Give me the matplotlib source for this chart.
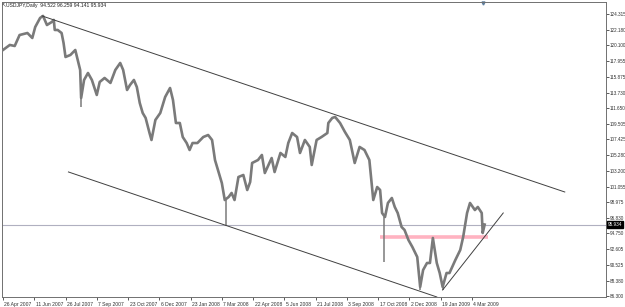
import matplotlib
matplotlib.use("Agg")
import matplotlib.pyplot as plt
import matplotlib.transforms as mtransforms

plt.rcParams['font.family'] = ['Liberation Sans', 'DejaVu Sans']

# USDJPY daily, values (bar index from 26 Apr 2007)
day = [0, 7, 12, 17, 25, 30, 33, 38, 41, 45, 50, 52, 53, 56, 60, 62, 64, 69, 74, 77,
       79, 80, 83, 87, 91, 96, 99, 104, 110, 115, 120, 123, 127, 130, 134, 137, 140, 143,
       146, 150, 152, 156, 161, 166, 171, 174, 177, 181, 184, 188, 191, 194, 199, 205,
       210, 214, 217, 220, 224, 227, 231, 234, 237, 241, 246, 250, 253, 255, 261, 265,
       268, 275, 278, 284, 289, 292, 296, 301, 304, 309, 314, 316, 321, 326, 332, 333,
       337, 340, 345, 350, 355, 360, 365, 370, 375, 377, 379, 383, 386, 388, 391, 394,
       398, 401, 404, 408, 411, 415, 419, 424, 427, 430, 434, 437, 440, 444, 447, 450,
       454, 457, 463, 468, 471, 475, 478, 483, 486, 490, 491, 493]
close = [119.46, 120.14, 120.00, 121.48, 121.75, 121.08, 122.56, 123.78, 124.05, 122.83,
         123.24, 123.51, 122.16, 122.16, 121.75, 120.41, 118.52, 118.79, 119.46, 117.84,
         116.77, 112.99, 115.42, 116.36, 115.42, 113.40, 115.15, 115.69, 115.02, 116.77,
         117.71, 116.77, 114.07, 114.74, 115.42, 114.47, 112.32, 110.97, 110.30, 108.27,
         107.33, 110.03, 110.97, 113.13, 114.34, 112.72, 109.62, 109.62, 107.73, 106.92,
         105.98, 106.92, 106.92, 107.73, 108.00, 107.33, 104.63, 103.29, 101.53, 99.24,
         99.65, 100.19, 99.24, 102.34, 102.61, 100.59, 101.67, 104.23, 104.63, 105.31,
         102.88, 104.90, 103.01, 105.58, 105.04, 106.92, 108.27, 107.73, 105.58, 107.33,
         106.39, 103.96, 107.33, 107.73, 108.27, 109.62, 110.30, 110.43, 109.62, 108.41,
         107.33, 104.23, 106.39, 105.98, 104.63, 101.94, 99.24, 100.99, 100.59, 97.49,
         96.95, 98.84, 99.51, 98.30, 97.49, 95.60, 95.20, 93.85, 92.91, 91.56,
         87.52, 89.80, 90.75, 90.75, 94.12, 90.75, 89.40, 87.52, 89.40, 89.40,
         91.15, 92.50, 94.25, 97.49, 98.84, 97.89, 98.30, 97.49, 94.79, 95.93]

# long lower wicks
spike_day = [80, 228, 390, 427, 450]
spike_low = [111.78, 95.74, 90.88, 87.11, 87.11]

# drawn objects
upper_line = ([40, 575], [124.05, 100.32])
lower_line = ([67, 444], [103.02, 86.17])
rise_line = ([450, 512], [87.11, 97.49])
pink_level = 94.25
pink_span = [386, 496]
last_price = 95.934

yticks = [124.315, 122.180, 120.100, 117.955, 115.875, 113.730, 111.650, 109.505,
          107.425, 105.280, 103.200, 101.055, 98.975, 96.830, 94.750, 92.605, 90.525,
          88.380, 86.300]
xtick_labels = ["26 Apr 2007", "11 Jun 2007", "26 Jul 2007", "7 Sep 2007", "23 Oct 2007",
                "6 Dec 2007", "23 Jan 2008", "7 Mar 2008", "22 Apr 2008", "5 Jun 2008",
                "21 Jul 2008", "3 Sep 2008", "17 Oct 2008", "2 Dec 2008", "19 Jan 2009",
                "4 Mar 2009"]
xtick_pos = [i * 32 for i in range(len(xtick_labels))]

W, H = 625, 307
fig = plt.figure(figsize=(W / 100, H / 100), dpi=100)
ax = fig.add_axes([2 / W, 10 / H, 604 / W, 295 / H])

ax.set_xlim(-1.0, 617.2)
ax.set_ylim(86.165, 125.93)

gray = "#7a7a7a"
ax.axhline(last_price, color="#b0b0c0", lw=0.8, zorder=1)
ax.plot(pink_span, [pink_level, pink_level], color="#ffb3c1", lw=2.6, zorder=2,
        solid_capstyle="butt")
ax.plot(day, close, color=gray, lw=1.9, zorder=3)
nearest = [close[min(range(len(day)), key=lambda i: abs(day[i] - s))] for s in spike_day]
ax.vlines(spike_day, spike_low, nearest, color=gray, lw=1.1, zorder=3)

for xs, ys in (upper_line, lower_line, rise_line):
    ax.plot(xs, ys, color="#404040", lw=0.7, zorder=4)

ax.yaxis.tick_right()
ax.set_yticks(yticks)
ax.set_yticklabels([f"{v:.3f}" for v in yticks])
ax.set_xticks(xtick_pos)
ax.set_xticklabels(xtick_labels, ha="left")
ax.tick_params(axis="x", labelsize=3.6, length=2.5, width=0.6, color="#404040",
               labelcolor="#303030", pad=1)
ax.tick_params(axis="y", labelsize=3.3, length=1.8, width=0.6, color="#404040",
               labelcolor="#303030", pad=0.6)
off = mtransforms.ScaledTranslation(1.5 / 100, 0, fig.dpi_scale_trans)
for lab in ax.get_xticklabels():
    lab.set_transform(lab.get_transform() + off)

for s in ax.spines.values():
    s.set_color("#707070")
    s.set_linewidth(0.7)

# current price tag on the right scale
ax.annotate(f"{last_price:.3f}", xy=(1, last_price), xycoords=("axes fraction", "data"),
            xytext=(1.2, 0), textcoords="offset points", fontsize=3.3, color="white",
            va="center", ha="left",
            bbox=dict(boxstyle="square,pad=0.2", fc="black", ec="black"))

fig.text(6 / W, 1 - 6 / H, "USDJPY,Daily  94.522 96.259 94.141 95.934", fontsize=3.6,
         color="#202020", va="center", ha="left")
fig.text(1 / W, 1 - 6 / H, "\u2196", fontsize=4, color="#404040", va="center", ha="left")
ax.plot([491], [125.8], marker="v", ms=2.2, color="#6080a0", clip_on=False)

fig.savefig("out.png", dpi=100, facecolor="white")
